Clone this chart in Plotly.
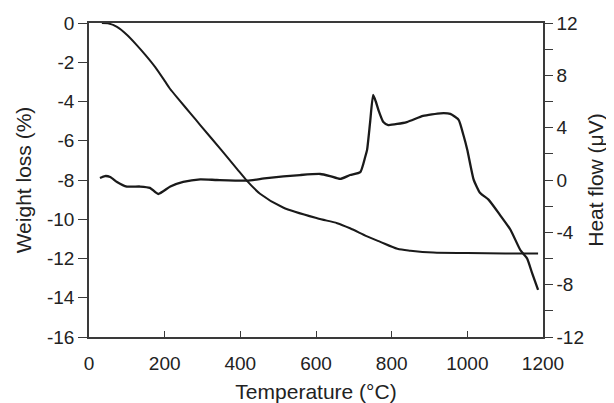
import plotly.graph_objects as go

# TGA / DTA curves
temp_weight = [34, 50, 74, 100, 125, 150, 175, 200, 214, 241, 267, 294, 350, 391, 418, 452,
               513, 603, 656, 690, 735, 770, 815, 850, 910, 1000, 1100, 1187]
weight_loss = [0, -0.02, -0.2, -0.6, -1.1, -1.65, -2.25, -2.95, -3.35, -3.98, -4.58, -5.2, -6.48, -7.43, -8.05, -8.7,
               -9.4, -9.95, -10.2, -10.46, -10.87, -11.15, -11.5, -11.6, -11.7, -11.72, -11.74, -11.75]

temp_heat = [29, 42, 56, 74, 100, 135, 161, 183, 215, 249, 294, 338, 418, 470, 558, 611,
             637, 664, 690, 717, 730, 735, 743, 751, 758, 765, 778, 791, 840, 883, 929,
             955, 977, 990, 1000, 1017, 1034, 1056, 1087, 1114, 1140, 1158, 1171, 1187]
heat_flow = [0.15, 0.3, 0.23, -0.15, -0.5, -0.5, -0.6, -1.07, -0.5, -0.15, 0.05, 0, -0.05, 0.15, 0.38, 0.46,
             0.3, 0.08, 0.38, 0.6, 1.76, 2.3, 4.4, 6.5, 6.0, 5.35, 4.43, 4.2, 4.43, 4.9, 5.1,
             5.05, 4.6, 3.4, 2.3, 0, -1.0, -1.5, -2.7, -3.8, -5.35, -6.0, -7.1, -8.4]

x_ticks = [0, 200, 400, 600, 800, 1000, 1200]
y1_ticks = [0, -2, -4, -6, -8, -10, -12, -14, -16]
y1_labels = ["0", "-2", "-4", "-6", "-8", "-10", "-12", "-14", "-16"]
y2_ticks = [12, 8, 4, 0, -4, -8, -12]
y2_labels = ["12", "8", "4", "0", "-4", "-8", "-12"]

ink = "#1a1a1a"
axis_col = "#3a3a3a"

fig = go.Figure()
fig.add_trace(go.Scatter(x=temp_weight, y=weight_loss, mode="lines",
                         line=dict(color=ink, width=2, shape="spline", smoothing=0.8),
                         showlegend=False))
fig.add_trace(go.Scatter(x=temp_heat, y=heat_flow, mode="lines", yaxis="y2",
                         line=dict(color=ink, width=2.3, shape="spline", smoothing=0.5),
                         showlegend=False))

tick_font = dict(family="Liberation Sans, Arial", size=19, color="#222222")
title_font = dict(family="Liberation Sans, Arial", size=21, color="#222222")

# page body has an 8px margin, so the figure is shrunk by that much
fig.update_layout(
    width=606, height=395,
    margin=dict(l=81, r=71, t=15, b=66),
    paper_bgcolor="white", plot_bgcolor="white",
    xaxis=dict(range=[0, 1200], tickvals=x_ticks, ticks="inside", ticklen=6,
               tickcolor=axis_col, showline=True, linecolor=axis_col, linewidth=1.5,
               mirror=True, showgrid=False, zeroline=False, tickfont=tick_font,
               automargin=False, ticklabelstandoff=8,
               title=dict(text="Temperature (°C)", font=title_font, standoff=12)),
    yaxis=dict(range=[-16, 0], tickvals=y1_ticks, ticktext=y1_labels, ticks="outside",
               ticklen=9, tickcolor=axis_col, showline=True, linecolor=axis_col,
               linewidth=1.5, showgrid=False, zeroline=False, tickfont=tick_font,
               automargin=False,
               title=dict(text="Weight loss (%)", font=title_font, standoff=10)),
    yaxis2=dict(range=[-12, 12], tickvals=y2_ticks, ticktext=y2_labels, overlaying="y",
                side="right", ticks="outside", ticklen=8, tickcolor=axis_col,
                minor=dict(dtick=2, ticks="outside", ticklen=8, tickcolor=axis_col),
                showline=True, linecolor=axis_col, linewidth=1.5, showgrid=False,
                zeroline=False, tickfont=tick_font, automargin=False,
                title=dict(text="Heat flow (μV)", font=title_font, standoff=5)),
)

fig.write_html("out.html")
